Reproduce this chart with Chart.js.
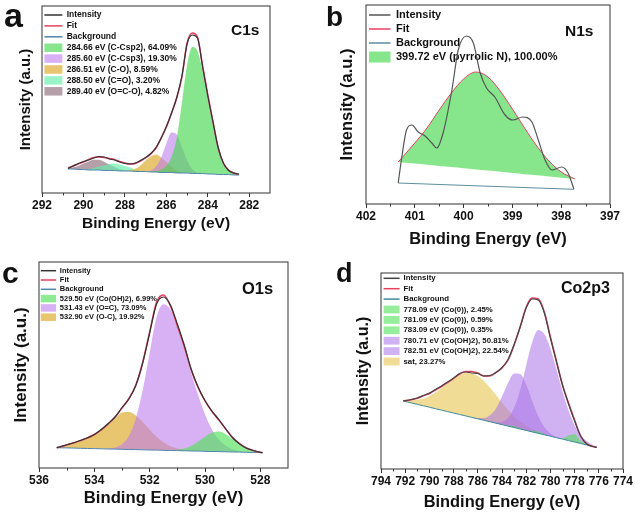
<!DOCTYPE html>
<html><head><meta charset="utf-8">
<script src="https://cdn.jsdelivr.net/npm/chart.js@4.4.0/dist/chart.umd.min.js"></script>
<style>
html,body{margin:0;padding:0;background:#fff;}
#wrap{position:relative;width:635px;height:514px;overflow:hidden;font-family:'Liberation Sans',Arial,sans-serif;}
canvas{position:absolute;}
.lbl{position:absolute;font-weight:bold;line-height:1;color:#111;white-space:nowrap;}
</style></head><body>
<div id="wrap">
<canvas id="ca" width="318" height="255" style="left:0;top:0"></canvas>
<canvas id="cb" width="317" height="255" style="left:318px;top:0"></canvas>
<canvas id="cc" width="318" height="259" style="left:0;top:255px"></canvas>
<canvas id="cd" width="317" height="259" style="left:318px;top:255px"></canvas>
<div class="lbl" style="left:4px;top:-2px;font-size:34px">a</div>
<div class="lbl" style="left:326px;top:3px;font-size:28px">b</div>
<div class="lbl" style="left:2px;top:258px;font-size:30px">c</div>
<div class="lbl" style="left:336px;top:260px;font-size:27px">d</div>
<div class="lbl" style="left:231px;top:22px;font-size:15.5px">C1s</div>
<div class="lbl" style="left:565px;top:23px;font-size:15.5px">N1s</div>
<div class="lbl" style="left:242px;top:280px;font-size:16.5px">O1s</div>
<div class="lbl" style="left:561px;top:280px;font-size:16px">Co2p3</div>
</div>
<script>
// ---------- Panel a : C1s ----------
const aEnergy = [290.75,290.5,290.25,290,289.75,289.5,289.25,289,288.75,288.5,288.25,288,287.75,287.5,287.25,287,286.75,286.5,286.25,286,285.75,285.5,285.25,285,284.75,284.5,284.25,284,283.75,283.5,283.25,283,282.75,282.5];
const aIntensity = [24.5,27,29.5,31.5,33,35,36.5,36,34,33,31,29.5,29,30,32.5,35.5,39.5,45.5,55,66.5,80,95.5,117,149,158,155,126,97,71,45.5,30,22.5,20,19];
const aFit = [25,27,29,31,33.5,35.5,36,35.5,34.5,33.5,31.5,30,29,29.5,32,35,39,45,55,66,80,95,116,150,160,156,127,98,71,45,30,23,20,18.5];
const aBackground = [24,24,23.5,23.5,23,23,23,22.5,22.5,22.5,22,22,22,21.5,21.5,21.5,21,21,20.5,20.5,20.5,20,20,20,19.5,19.5,19.5,19,19,18.5,18.5,18.5,18,18];
const aCsp2 = [24,24,23.5,23.5,23,23,23,22.5,22.5,22.5,22,22,22,21.5,21.5,21.5,21.5,22,23.5,27,36,55,90,128,146,142,122,94,68,44,29,22.5,19.5,18.5];
const aCsp3 = [24,24,23.5,23.5,23,23,23,22.5,22.5,22.5,22,22,22,21.5,21.5,21.5,22.4,26.5,35.5,49.5,60.5,58.5,46,32.7,23.8,20.6,19.5,19,19,18.5,18.5,18.5,18,18];
const aCO = [24,24,23.5,23.5,23,23,23,22.5,22.5,22.5,22,22.3,23,24.2,27.5,32.5,36.5,38.5,35.5,31,26.5,22.5,21,20,19.5,19.5,19.5,19,19,18.5,18.5,18.5,18,18];
const aCdO = [24,24,23.5,23.7,24,25,26.5,27.5,29,29.5,28.5,27,25.5,23.5,22.5,22,21,21,20.5,20.5,20.5,20,20,20,19.5,19.5,19.5,19,19,18.5,18.5,18.5,18,18];
const aOCO = [24.7,25.8,27.1,29.6,31.6,33.2,33.3,31,28.5,26,23.7,22.7,22.2,21.5,21.5,21.5,21,21,20.5,20.5,20.5,20,20,20,19.5,19.5,19.5,19,19,18.5,18.5,18.5,18,18];
const aLabels = ['284.66 eV (C-Csp2), 64.09%','285.60 eV (C-Csp3), 19.30%','286.51 eV (C-O), 8.59%','288.50 eV (C=O), 3.20%','289.40 eV (O=C-O), 4.82%'];

// ---------- Panel b : N1s ----------
const bIntensityEnergy = [401.34,401.26,401.17,401.06,400.93,400.79,400.65,400.55,400.42,400.24,400.11,399.94,399.8,399.66,399.53,399.36,399.15,398.99,398.79,398.6,398.47,398.33,398.19,397.99,397.86,397.74];
const bIntensity = [21,49,74,79,72,68,61,56,71,114,154,168,161,131,116,107,89,84,87,82,64,44,34,37,31,15];
const bFitEnergy = [401.34,401.25,401.0,400.75,400.5,400.25,400.0,399.75,399.5,399.25,399.0,398.75,398.5,398.25,398.0,397.72];
const bFit = [42,47,61,76,94,111,125,132,127,113,95,76,58,43,32,25];
const bPeakBase = [42,41.6,40.4,39.2,38,36.9,35.7,34.5,33.4,32.2,31,29.8,28.7,27.5,26.3,25];
const bBackgroundEnergy = [401.34,397.74];
const bBackground = [21,14.7];
const bLabels = ['399.72 eV (pyrrolic N), 100.00%'];

// ---------- Panel c : O1s ----------
const cEnergy = [535.36,535.25,535,534.75,534.5,534.25,534,533.75,533.5,533.25,533,532.75,532.5,532.25,532,531.75,531.5,531.25,531,530.75,530.5,530.25,530,529.75,529.5,529.25,529,528.75,528.5,528.25,528,527.92];
const cIntensity = [20.3,21.2,23.3,25.3,27.5,30.2,33.5,38.5,44.5,51,60.5,69,82.5,105,135,164,171,163,144,123,99,81,67.5,57,48.5,39,30,24,19.8,17.5,15.6,15.3];
const cFit = [20.3,21,23,25,27.5,30,33.5,38,44,51,60,69.5,83,106,136,166,173,162,142,121.5,98,80.5,67,56.5,48,39,30.5,24.5,20,17.5,15.7,15.3];
const cBackground = [20.3,20.2,20.1,19.9,19.7,19.5,19.4,19.2,19,18.9,18.7,18.5,18.4,18.2,18,17.9,17.7,17.5,17.4,17.2,17,16.9,16.7,16.5,16.4,16.2,16,15.9,15.7,15.5,15.4,15.3];
const cCoOH = [20.3,20.2,20.1,19.9,19.7,19.5,19.4,19.2,19,18.9,18.7,18.5,18.4,18.2,18,17.9,17.7,17.5,18.2,19.4,21.9,26.2,31.2,35.2,36.4,33.8,28.8,23.6,19.6,17.1,15.9,15.7];
const cOdC = [20.3,20.2,20.1,19.9,19.7,19.5,19.4,19.2,19.4,20.4,23.7,32.1,49.4,78.2,115,150.9,163.7,158.5,140.4,120.2,95,72.9,53.7,38.5,28.4,22.2,18.6,17.1,16.2,15.7,15.4,15.3];
const cOC = [20.3,21,22.8,24.8,27.3,30,33.5,38,43.5,49.5,55.5,56,52.5,46,38.2,31.2,25.7,21.8,19.5,18.2,17.4,16.9,16.7,16.5,16.4,16.2,16,15.9,15.7,15.5,15.4,15.3];
const cLabels = ['529.50 eV (Co(OH)2), 6.99%','531.43 eV (O=C), 73.09%','532.90 eV (O-C), 19.92%'];

// ---------- Panel d : Co2p3 ----------
const dEnergy = [792.16,791.5,791,790.5,790,789.5,789,788.5,788,787.5,787,786.5,786,785.5,785,784.5,784,783.5,783,782.5,782,781.5,781,780.5,780,779.5,779,778.5,778,777.5,777,776.5,776.18];
const dIntensity = [68,69.5,71,73.5,76,79.5,83,87,91,95.5,97,96,95.5,93,93.5,96.5,101.5,109.5,124.5,142,161,170,169,156,131,107,84,65,48,33,25,22.5,21.7];
const dFit = [68,69.3,70.8,73.3,75.5,79,82.5,86.3,90.5,95,97.5,97.5,96,93,93,96.5,101,109,124,142,162,171,170,157,132,108,84,66,49,33,25,22.5,21.7];
const dBackground = [68,66.1,64.7,63.2,61.8,60.3,58.9,57.4,56,54.5,53.1,51.6,50.2,48.7,47.3,45.8,44.4,42.9,41.5,40,38.6,37.1,35.7,34.2,32.8,31.3,29.9,28.4,27,25.5,24.1,22.6,21.7];
const dCo778 = [68,66.1,64.7,63.2,61.8,60.3,58.9,57.4,56,54.5,53.1,51.6,50.2,48.7,47.3,45.8,44.4,42.9,41.5,40,38.6,37.1,35.7,34.2,32.8,31.3,30.7,33.4,35,28.5,24.4,22.6,21.7];
const dCo781 = [68,66.1,64.7,63.2,61.8,60.3,58.9,57.4,56,54.5,53.1,51.6,50.2,48.7,47.3,45.8,44.4,42.9,41.5,40,38.6,38.1,37.7,35,32.8,31.3,29.9,28.4,27,25.5,24.1,22.6,21.7];
const dCo783 = [68,66.1,64.7,63.2,61.8,60.3,58.9,57.4,56,54.5,53.1,51.6,50.2,48.7,47.3,45.8,44.4,43.6,43,40.6,38.6,37.1,35.7,34.2,32.8,31.3,29.9,28.4,27,25.5,24.1,22.6,21.7];
const dCoOH780 = [68,66.1,64.7,63.2,61.8,60.3,58.9,57.4,56,54.5,53.1,51.6,50.2,48.7,47.5,46.6,47.2,51.1,61.2,79,103.6,127.1,139.1,135,120.5,99.7,77.7,58.4,43.8,34,27.9,24.1,22.7];
const dCoOH782 = [68,66.1,64.7,63.2,61.8,60.3,58.9,57.4,56,54.5,53.1,51.8,50.8,50.9,53.7,60.6,72.4,85.9,95.5,95,84.4,68.1,52.7,41.9,35.6,32.1,30.1,28.4,27,25.5,24.1,22.6,21.7];
const dSat = [69.3,68.8,69.3,70.6,73.1,76.5,80.9,85.6,90.3,93.9,95.9,95.6,93,88.1,81.6,74,66.4,59.1,52.8,47.4,43.2,39.8,37.2,34.9,33.1,31.3,29.9,28.4,27,25.5,24.1,22.6,21.7];
const dLabels = ['778.09 eV (Co(0)), 2.45%','781.09 eV (Co(0)), 0.59%','783.09 eV (Co(0)), 0.35%','780.71 eV (Co(OH)2), 50.81%','782.51 eV (Co(OH)2), 22.54%','sat, 23.27%'];

// ---------- helpers ----------
const FONT = "'Liberation Sans', Arial, sans-serif";
const pts = (xs, ys) => xs.map((x, i) => ({x: x, y: ys[i]}));
const line = (label, xs, ys, color, w) => ({label, data: pts(xs, ys), borderColor: color, borderWidth: w, fill: false});
const area = (label, xs, ys, color, target) => ({label, data: pts(xs, ys), backgroundColor: color, borderColor: 'rgba(0,0,0,0)', borderWidth: 0, fill: {target: target}});

const framePlugin = {
  id: 'frame',
  afterDatasetsDraw(chart, args, opts) {
    const {ctx, chartArea: a} = chart;
    const x = chart.scales.x;
    ctx.save();
    ctx.strokeStyle = '#333';
    ctx.lineWidth = 1;
    ctx.strokeRect(a.left, a.top, a.right - a.left, a.bottom - a.top);
    ctx.beginPath();
    (opts.minor || []).forEach(v => {
      const p = Math.round(x.getPixelForValue(v)) + 0.5;
      ctx.moveTo(p, a.bottom); ctx.lineTo(p, a.bottom + 2.5);
    });
    ctx.stroke();
    ctx.restore();
  }
};

function genLabels(chart) {
  const items = Chart.defaults.plugins.legend.labels.generateLabels(chart);
  return items.map(it => {
    const ds = chart.data.datasets[it.datasetIndex];
    if (ds.fill) { it.pointStyle = 'rect'; it.fillStyle = ds.backgroundColor; it.strokeStyle = ds.backgroundColor; it.lineWidth = 0; }
    else { it.pointStyle = 'line'; it.strokeStyle = ds.borderColor; it.lineWidth = 1.5; }
    return it;
  });
}

function makeChart(id, c) {
  return new Chart(document.getElementById(id), {
    type: 'line',
    data: {datasets: c.datasets},
    options: {
      responsive: false, animation: false, devicePixelRatio: 1,
      layout: {padding: c.pad},
      elements: {point: {radius: 0, hoverRadius: 0}, line: {cubicInterpolationMode: 'monotone'}},
      scales: {
        x: {
          type: 'linear', reverse: true, min: c.xmin, max: c.xmax,
          ticks: {stepSize: c.step, includeBounds: false, autoSkip: false, maxRotation: 0, minRotation: 0, padding: 1,
                  color: '#111', font: {family: FONT, size: 12, weight: 'bold'}},
          grid: {display: true, drawOnChartArea: false, drawTicks: true, tickLength: 4, color: '#333'},
          border: {display: false},
          title: {display: true, text: 'Binding Energy (eV)', color: '#111', padding: 0,
                  font: {family: FONT, size: c.xt, weight: 'bold'}},
          afterFit: s => { s.height = c.xh; s.paddingLeft = 0; s.paddingRight = 0; }
        },
        y: {
          type: 'linear', min: 0, max: c.ymax,
          ticks: {display: false}, grid: {display: false}, border: {display: false},
          title: {display: true, text: 'Intensity (a.u.)', color: '#111', padding: 0,
                  font: {family: FONT, size: c.yt, weight: 'bold'}},
          afterFit: s => { s.width = c.yw; s.paddingTop = 0; s.paddingBottom = 0; }
        }
      },
      plugins: {
        tooltip: {enabled: false},
        frame: {minor: c.minor},
        legend: {
          position: 'chartArea', align: 'start',
          title: {display: true, text: '', padding: {top: c.legOff, bottom: 0}, font: {size: 1, lineHeight: 1}},
          labels: {
            usePointStyle: true, pointStyleWidth: c.psw, boxHeight: c.lf, padding: c.lp,
            color: '#111', font: {family: FONT, size: c.lf, weight: 'bold'},
            generateLabels: genLabels,
            filter: it => !it.text.startsWith('_')
          }
        }
      }
    },
    plugins: [framePlugin]
  });
}

const INT = '#333333', FIT = '#e6405f', BG = '#4f86b0';

makeChart('ca', {
  pad: {left: 17, right: 48, top: 6, bottom: 22.4}, yw: 25, xh: 39.6,
  xmin: 281, xmax: 292, step: 2, ymax: 187, yt: 15, xt: 15.5,
  lf: 8.5, lp: 2.4, psw: 18, legOff: 7.35, minor: [283, 285, 287, 289, 291],
  datasets: [
    line('Intensity', aEnergy, aIntensity, INT, 1.2),
    line('Fit', aEnergy, aFit, FIT, 1.5),
    line('Background', aEnergy, aBackground, BG, 1),
    area(aLabels[0], aEnergy, aCsp2, 'rgba(70,215,80,0.65)', 2),
    area(aLabels[1], aEnergy, aCsp3, 'rgba(190,125,236,0.6)', 2),
    area(aLabels[2], aEnergy, aCO, 'rgba(222,172,50,0.7)', 2),
    area(aLabels[3], aEnergy, aCdO, 'rgba(100,238,170,0.65)', 2),
    area(aLabels[4], aEnergy, aOCO, 'rgba(150,118,132,0.7)', 2)
  ]
});

makeChart('cb', {
  pad: {left: 19.6, right: 25, top: 5, bottom: 6.1}, yw: 28.4, xh: 44.9,
  xmin: 397, xmax: 402, step: 1, ymax: 199, yt: 16.5, xt: 16.5,
  lf: 11, lp: 3, psw: 21.5, legOff: 5.5, minor: [401.5, 400.5, 399.5, 398.5, 397.5],
  datasets: [
    line('Intensity', bIntensityEnergy, bIntensity, '#555555', 1.2),
    line('Fit', bFitEnergy, bFit, FIT, 1),
    line('Background', bBackgroundEnergy, bBackground, '#5b8f9c', 1),
    area(bLabels[0], bFitEnergy, bFit, 'rgba(95,222,100,0.75)', 4),
    {label: '_base', data: pts(bFitEnergy, bPeakBase), borderWidth: 0, borderColor: 'rgba(0,0,0,0)', fill: false}
  ]
});

makeChart('cc', {
  pad: {left: 11.3, right: 30, top: 7, bottom: 6}, yw: 27.7, xh: 40,
  xmin: 527, xmax: 536, step: 2, ymax: 206, yt: 17, xt: 16.7,
  lf: 7.5, lp: 1.8, psw: 15.3, legOff: 9.15, minor: [529, 531, 533, 535],
  datasets: [
    line('Intensity', cEnergy, cIntensity, INT, 1.2),
    line('Fit', cEnergy, cFit, FIT, 1.5),
    line('Background', cEnergy, cBackground, BG, 1),
    area(cLabels[0], cEnergy, cCoOH, 'rgba(80,225,90,0.65)', 2),
    area(cLabels[1], cEnergy, cOdC, 'rgba(190,125,236,0.6)', 2),
    area(cLabels[2], cEnergy, cOC, 'rgba(222,172,50,0.7)', 2)
  ]
});

makeChart('cd', {
  pad: {left: 35.9, right: 12, top: 18, bottom: 1.2}, yw: 27.1, xh: 43.8,
  xmin: 774, xmax: 794, step: 2, ymax: 196, yt: 16, xt: 16.4,
  lf: 7.8, lp: 2.6, psw: 16, legOff: 15.8, minor: [775, 777, 779, 781, 783, 785, 787, 789, 791, 793],
  datasets: [
    line('Intensity', dEnergy, dIntensity, '#444444', 1.2),
    line('Fit', dEnergy, dFit, FIT, 1.5),
    line('Background', dEnergy, dBackground, '#3f8a9a', 1),
    area(dLabels[0], dEnergy, dCo778, 'rgba(80,225,90,0.6)', 2),
    area(dLabels[1], dEnergy, dCo781, 'rgba(80,225,90,0.6)', 2),
    area(dLabels[2], dEnergy, dCo783, 'rgba(80,225,90,0.6)', 2),
    area(dLabels[3], dEnergy, dCoOH780, 'rgba(170,115,232,0.55)', 2),
    area(dLabels[4], dEnergy, dCoOH782, 'rgba(170,115,232,0.55)', 2),
    area(dLabels[5], dEnergy, dSat, 'rgba(232,196,80,0.6)', 2)
  ]
});
</script>
</body></html>
